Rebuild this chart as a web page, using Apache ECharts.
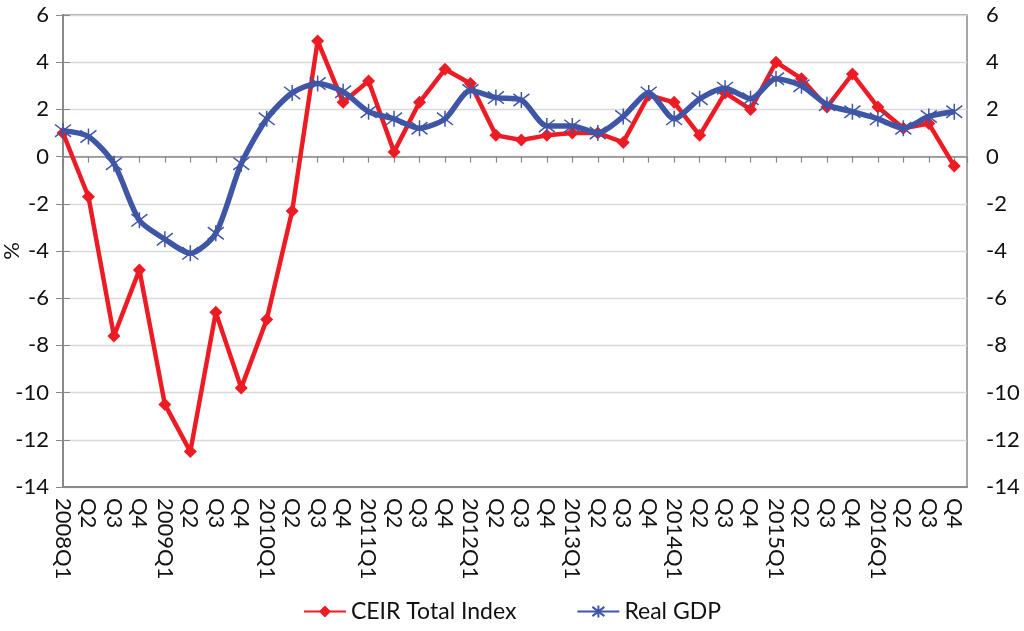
<!DOCTYPE html>
<html>
<head>
<meta charset="utf-8">
<script src="https://cdn.jsdelivr.net/npm/echarts@6/dist/echarts.min.js"></script>
<style>
html,body{margin:0;padding:0;background:#fff;}
#chart{width:1024px;height:631px;}
</style>
</head>
<body>
<div id="chart"></div>
<script>
const categories = [
  '2008Q1','Q2','Q3','Q4',
  '2009Q1','Q2','Q3','Q4',
  '2010Q1','Q2','Q3','Q4',
  '2011Q1','Q2','Q3','Q4',
  '2012Q1','Q2','Q3','Q4',
  '2013Q1','Q2','Q3','Q4',
  '2014Q1','Q2','Q3','Q4',
  '2015Q1','Q2','Q3','Q4',
  '2016Q1','Q2','Q3','Q4'
];
const ceirTotal = [
  1.0, -1.7, -7.6, -4.8,
  -10.5, -12.5, -6.6, -9.8,
  -6.9, -2.3, 4.9, 2.3,
  3.2, 0.2, 2.3, 3.7,
  3.1, 0.9, 0.7, 0.9,
  1.0, 1.0, 0.6, 2.6,
  2.3, 0.9, 2.7, 2.0,
  4.0, 3.3, 2.1, 3.5,
  2.1, 1.2, 1.4, -0.4
];
const realGDP = [
  1.1, 0.85, -0.3, -2.7,
  -3.5, -4.1, -3.25, -0.3,
  1.6, 2.7, 3.1, 2.75,
  1.9, 1.6, 1.2, 1.6,
  2.8, 2.5, 2.4, 1.3,
  1.3, 1.0, 1.7, 2.7,
  1.6, 2.45, 2.9, 2.45,
  3.3, 3.0, 2.2, 1.9,
  1.6, 1.2, 1.7, 1.9
];
const yTicks = { min: -14, max: 6, step: 2 };

const FONT = 'Lato';
const asterisk = 'path://M0,0L10,10M10,0L0,10M5,-1.5L5,11.5';

const chart = echarts.init(document.getElementById('chart'), null, {renderer: 'canvas'});
const gray = '#898989';
const option = {
  animation: false,
  backgroundColor: '#ffffff',
  textStyle: { fontFamily: FONT },
  grid: {
    left: 63, right: 57, top: 15, bottom: 144,
    outerBoundsMode: 'none', containLabel: false,
    show: true, borderColor: gray, borderWidth: 1.5, backgroundColor: 'transparent'
  },
  legend: {
    bottom: 3, left: 'center',
    itemWidth: 42, itemHeight: 15, itemGap: 60,
    textStyle: { fontFamily: FONT, fontSize: 23, color: '#111' },
    data: ['CEIR Total Index', 'Real GDP']
  },
  xAxis: [
    {
      type: 'value', min: 0, max: categories.length - 0.5, interval: 1,
      position: 'bottom',
      axisLine: { onZero: false, show: true, lineStyle: { color: gray, width: 2 } },
      axisTick: { show: false },
      splitLine: { show: false },
      axisLabel: {
        rotate: -90, margin: 11, fontFamily: FONT, fontSize: 22, color: '#111',
        showMaxLabel: true, showMinLabel: true,
        formatter: v => (Number.isInteger(v) && categories[v] !== undefined) ? categories[v] : ''
      }
    },
    {
      type: 'value', min: 0, max: categories.length - 0.5, interval: 1,
      position: 'bottom',
      axisLine: { onZero: true, show: true, lineStyle: { color: gray, width: 1.5 } },
      axisTick: { show: true, length: 6, lineStyle: { color: gray, width: 1.2 } },
      splitLine: { show: false },
      axisLabel: { show: false }
    }
  ],
  yAxis: [
    {
      type: 'value', min: yTicks.min, max: yTicks.max, interval: yTicks.step,
      position: 'left',
      name: '%', nameLocation: 'middle', nameRotate: 90, nameGap: 40,
      nameMoveOverlap: false,
      nameTextStyle: { fontFamily: FONT, fontSize: 22, color: '#111' },
      axisLine: { show: true, lineStyle: { color: gray, width: 2 } },
      axisTick: { show: true, length: 7, lineStyle: { color: gray } },
      splitLine: { show: true, lineStyle: { color: '#d9d9d9', width: 1.3 } },
      axisLabel: { fontFamily: FONT, fontSize: 22, color: '#111', margin: 14 }
    },
    {
      type: 'value', min: yTicks.min, max: yTicks.max, interval: yTicks.step,
      position: 'right',
      axisLine: { show: true, lineStyle: { color: gray, width: 2 } },
      axisTick: { show: true, length: 7, lineStyle: { color: gray } },
      splitLine: { show: false },
      axisLabel: { fontFamily: FONT, fontSize: 22, color: '#111', margin: 19 }
    }
  ],
  series: [
    {
      name: 'CEIR Total Index', type: 'line',
      xAxisIndex: 0, yAxisIndex: 0,
      data: ceirTotal.map((v, i) => [i, v]),
      symbol: 'diamond', symbolSize: 13,
      lineStyle: { color: '#ED1C24', width: 4.5 },
      itemStyle: { color: '#ED1C24' },
      z: 3
    },
    {
      name: 'Real GDP', type: 'line',
      xAxisIndex: 0, yAxisIndex: 0,
      data: realGDP.map((v, i) => [i, v]),
      smooth: 0.25,
      symbol: asterisk, symbolSize: 16,
      lineStyle: { color: '#3F56A6', width: 5.5 },
      itemStyle: { color: '#3F56A6', borderColor: '#3F56A6', borderWidth: 1.5 },
      z: 4
    }
  ]
};
chart.setOption(option);
</script>
</body>
</html>
